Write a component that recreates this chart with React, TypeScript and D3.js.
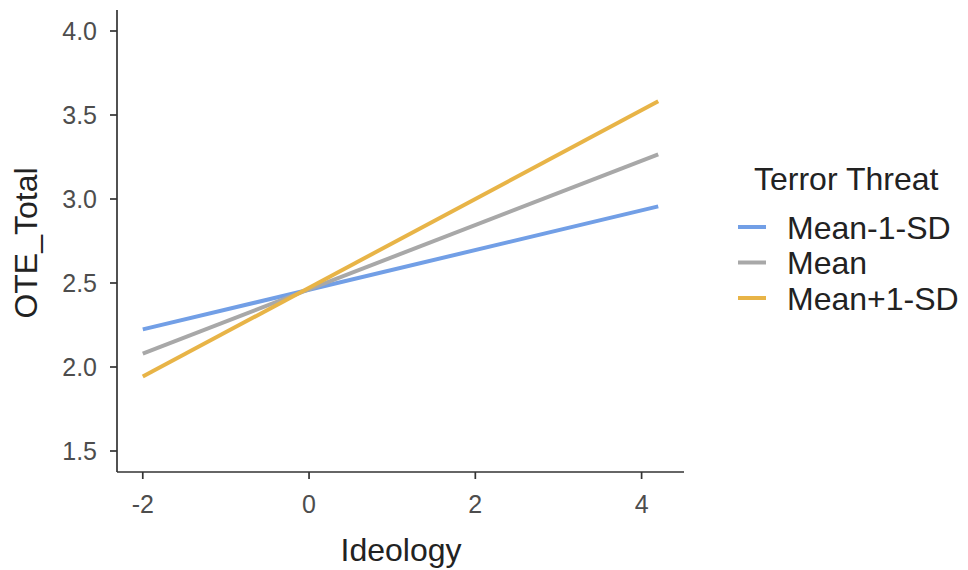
import React from "react";
import { scaleLinear, line } from "d3";

const xRange = [-2, 4.2];
const xTicks = [-2, 0, 2, 4];
const yTicks = [1.5, 2.0, 2.5, 3.0, 3.5, 4.0];
const seriesNames = ["Mean-1-SD", "Mean", "Mean+1-SD"];
const seriesColors = ["#729fe6", "#a8a8a8", "#e8b447"];
const startValues = [2.224, 2.08, 1.943];
const endValues = [2.956, 3.266, 3.582];

const W = 968;
const H = 570;
const left = 117;
const right = 684;
const top = 10;
const bottom = 472;

const App = () => {
  const span = xRange[1] - xRange[0];
  const x = scaleLinear()
    .domain([xRange[0] - span * 0.05, xRange[1] + span * 0.05])
    .range([left, right]);
  const y = scaleLinear().domain([1.375, 4.125]).range([bottom, top]);

  const path = line<[number, number]>()
    .x((d) => x(d[0]))
    .y((d) => y(d[1]));

  const font = "'Liberation Sans', Arial, sans-serif";

  return (
    <svg width={W} height={H} style={{ position: "absolute", left: 0, top: 0, background: "#fff" }} fontFamily={font}>
      {seriesNames.map((name, i) => (
        <path
          key={name}
          d={path([
            [xRange[0], startValues[i]],
            [xRange[1], endValues[i]],
          ]) as string}
          stroke={seriesColors[i]}
          strokeWidth={4}
          fill="none"
        />
      ))}

      <line x1={left} x2={left} y1={top} y2={bottom} stroke="#333" strokeWidth={1.7} />
      <line x1={left} x2={right} y1={bottom} y2={bottom} stroke="#333" strokeWidth={1.7} />

      {yTicks.map((t) => (
        <g key={t} transform={`translate(0,${y(t)})`}>
          <line x1={left - 7} x2={left} stroke="#333" strokeWidth={1.7} />
          <text x={left - 20} dy="0.36em" textAnchor="end" fontSize={25} fill="#4d4d4d">
            {t.toFixed(1)}
          </text>
        </g>
      ))}

      {xTicks.map((t) => (
        <g key={t} transform={`translate(${x(t)},0)`}>
          <line y1={bottom} y2={bottom + 7} stroke="#333" strokeWidth={1.7} />
          <text y={bottom + 41} textAnchor="middle" fontSize={25} fill="#4d4d4d">
            {t}
          </text>
        </g>
      ))}

      <text x={401} y={561} textAnchor="middle" fontSize={32} fill="#222">
        Ideology
      </text>
      <text
        transform={`translate(37,243) rotate(-90)`}
        textAnchor="middle"
        fontSize={32}
        fill="#222"
      >
        OTE_Total
      </text>

      <text x={754} y={190} fontSize={32} fill="#222">
        Terror Threat
      </text>
      {seriesNames.map((name, i) => (
        <g key={name} transform={`translate(0,${227 + i * 35.5})`}>
          <line x1={738} x2={766} stroke={seriesColors[i]} strokeWidth={4} />
          <text x={787} dy="0.36em" fontSize={32} fill="#222">
            {name}
          </text>
        </g>
      ))}
    </svg>
  );
};

export default App;
